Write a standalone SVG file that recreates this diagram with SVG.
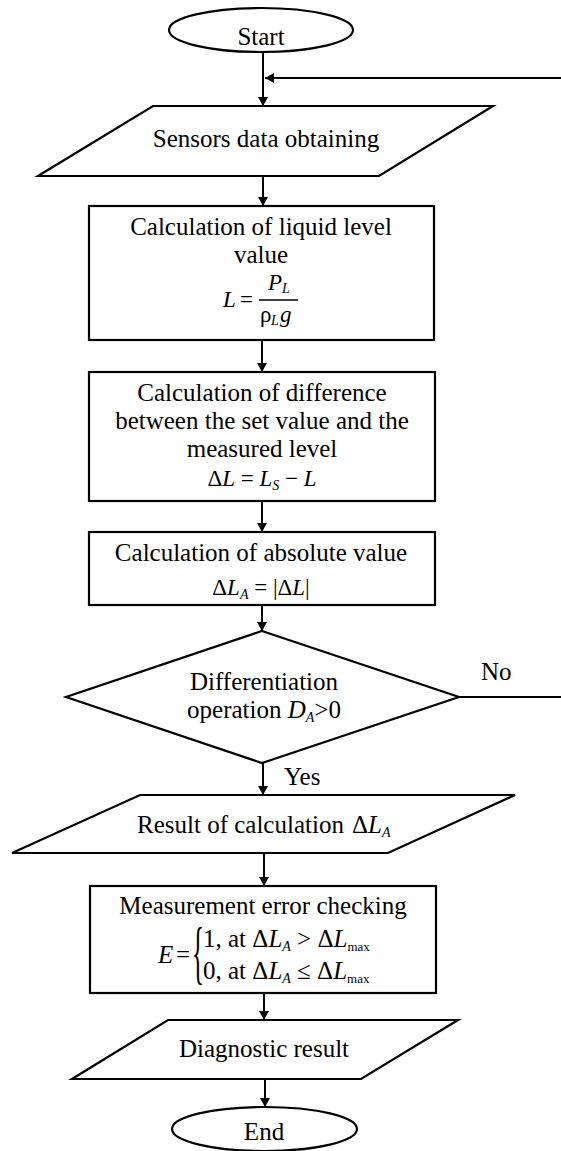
<svg xmlns="http://www.w3.org/2000/svg" width="561" height="1151" viewBox="0 0 561 1151" font-family="Liberation Serif, Times New Roman, serif">
<style>
  text { font-family: "Liberation Serif", "Times New Roman", serif; font-size: 25px; fill: #000; }
  .c { text-anchor: middle; }
  .m { font-size: 23px; }
  .i { font-style: italic; }
  .sub { font-size: 14px; font-style: italic; }
  .subr { font-size: 13px; }
  .shape { fill: #fff; stroke: #000; stroke-width: 2.2; }
  .ln { fill: none; stroke: #000; stroke-width: 2; }
  .arr { fill: none; stroke: #000; stroke-width: 2; marker-end: url(#ah); }
</style>
<defs>
  <marker id="ah" viewBox="0 0 9 10" refX="9" refY="5" markerWidth="9" markerHeight="10" markerUnits="userSpaceOnUse" orient="auto">
    <path d="M0,0 L9,5 L0,10 z" fill="#000"/>
  </marker>
</defs>

<g id="connectors">
  <path class="arr" d="M263,52 V106"/>
  <path class="arr" d="M561,78 H265"/>
  <path class="arr" d="M263,176 V206"/>
  <path class="arr" d="M262,340 V372"/>
  <path class="arr" d="M262,501 V532"/>
  <path class="arr" d="M262,605 V631"/>
  <path class="ln" d="M459,697 H561"/>
  <path class="arr" d="M263,763 V795"/>
  <path class="arr" d="M264,853 V886"/>
  <path class="arr" d="M264,993 V1020"/>
  <path class="arr" d="M265,1079 V1107"/>
  <text x="481" y="680">No</text>
  <text x="284" y="785">Yes</text>
</g>

<g id="start">
  <ellipse class="shape" cx="261" cy="30" rx="92" ry="22"/>
  <text class="c" x="261" y="45">Start</text>
</g>

<g id="sensors">
  <polygon class="shape" points="153,106 493,106 379,176 38,176"/>
  <text class="c" x="266" y="147">Sensors data obtaining</text>
</g>

<g id="level">
  <rect class="shape" x="89" y="206" width="345" height="134"/>
  <text class="c" x="261" y="235">Calculation of liquid level</text>
  <text class="c" x="261" y="263">value</text>
  <text class="m i" x="223" y="307">L</text>
  <text class="m" x="240" y="307">=</text>
  <line x1="259" y1="300" x2="298" y2="300" stroke="#000" stroke-width="1.3"/>
  <text class="m i" x="268" y="290">P</text>
  <text class="sub" x="282" y="293">L</text>
  <text class="m" x="260" y="322">ρ</text>
  <text class="sub" x="271" y="325">L</text>
  <text class="m i" x="280" y="322">g</text>
</g>

<g id="difference">
  <rect class="shape" x="89" y="372" width="346" height="129"/>
  <text class="c" x="262" y="401">Calculation of difference</text>
  <text class="c" x="262" y="429">between the set value and the</text>
  <text class="c" x="262" y="457">measured level</text>
  <text class="c m" x="262" y="486">Δ<tspan class="i">L</tspan> = <tspan class="i">L</tspan><tspan class="sub" dy="4">S</tspan><tspan dy="-4"> − </tspan><tspan class="i">L</tspan></text>
</g>

<g id="absolute">
  <rect class="shape" x="89" y="532" width="346" height="73"/>
  <text class="c" x="261" y="561">Calculation of absolute value</text>
  <text class="c m" x="261" y="595">Δ<tspan class="i">L</tspan><tspan class="sub" dy="4">A</tspan><tspan dy="-4"> = |Δ</tspan><tspan class="i">L</tspan>|</text>
</g>

<g id="decision">
  <polygon class="shape" points="262,631 459,697 262,763 66,697"/>
  <text class="c" x="264" y="690">Differentiation</text>
  <text class="c" x="264" y="718">operation <tspan class="i">D</tspan><tspan class="sub" dy="4">A</tspan><tspan dy="-4">&gt;0</tspan></text>
</g>

<g id="result">
  <polygon class="shape" points="140,795 515,795 388,853 12,853"/>
  <text x="137" y="833">Result of calculation</text>
  <text x="352" y="833" font-size="21">Δ<tspan class="i">L</tspan><tspan class="sub" font-size="12" dy="4">A</tspan></text>
</g>

<g id="error">
  <rect class="shape" x="90" y="886" width="346" height="107"/>
  <text class="c" x="263" y="914">Measurement error checking</text>
  <text class="i" x="158" y="963" font-size="23">E</text>
  <text x="176" y="963" font-size="23">=</text>
  <text x="192" y="976" font-size="24" transform="translate(192,976) scale(1,2.8) translate(-192,-976)">{</text>
  <text x="203" y="947" font-size="21">1, at Δ<tspan class="i">L</tspan><tspan class="sub" font-size="13" dy="4">A</tspan><tspan dy="-4"> &gt; Δ</tspan><tspan class="i">L</tspan><tspan class="subr" dy="4">max</tspan></text>
  <text x="203" y="979" font-size="21">0, at Δ<tspan class="i">L</tspan><tspan class="sub" font-size="13" dy="4">A</tspan><tspan dy="-4"> ≤ Δ</tspan><tspan class="i">L</tspan><tspan class="subr" dy="4">max</tspan></text>
</g>

<g id="diagnostic">
  <polygon class="shape" points="168,1020 458,1020 361,1079 72,1079"/>
  <text class="c" x="264" y="1057">Diagnostic result</text>
</g>

<g id="end">
  <ellipse class="shape" cx="264.5" cy="1129" rx="92.5" ry="22"/>
  <text class="c" x="264" y="1140">End</text>
</g>
</svg>
